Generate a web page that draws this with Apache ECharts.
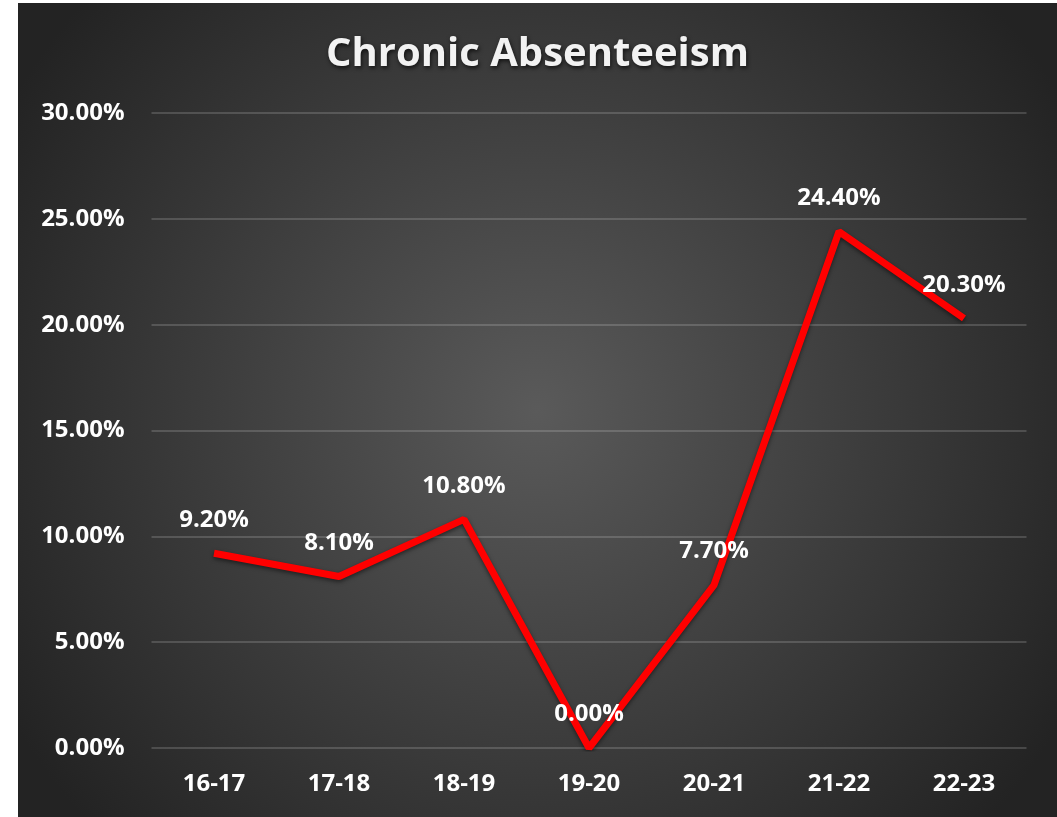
<!DOCTYPE html>
<html>
<head>
<meta charset="utf-8">
<script src="https://cdn.jsdelivr.net/npm/echarts@6/dist/echarts.min.js"></script>
<style>
  html, body { margin: 0; padding: 0; background: #ffffff; }
  #main { position: absolute; left: 18px; top: 3px; width: 1039px; height: 814px; }
</style>
</head>
<body>
<div id="main"></div>
<script>
// 数据
var years = ['16-17', '17-18', '18-19', '19-20', '20-21', '21-22', '22-23'];
var absentRate = [9.2, 8.1, 10.8, 0.0, 7.7, 24.4, 20.3];
var yTicks = [0, 5, 10, 15, 20, 25, 30];

(function () {
    var fontFam = '"Open Sans", "DejaVu Sans", sans-serif';
    var myechart = echarts.init(document.getElementById('main'));
    var option = {
        // 背景径向渐变
        backgroundColor: {
            type: 'radial',
            x: 0.5, y: 0.5, r: 0.75,
            colorStops: [
                { offset: 0, color: '#5a5a5a' },
                { offset: 1, color: '#232323' }
            ]
        },
        title: {
            text: 'Chronic Absenteeism',
            left: 'center',
            top: 27,
            textStyle: {
                color: '#f2f2f2',
                fontSize: 40,
                fontWeight: 'bold',
                fontFamily: fontFam,
                textShadowColor: 'rgba(0,0,0,0.7)',
                textShadowBlur: 4,
                textShadowOffsetX: 1,
                textShadowOffsetY: 2
            }
        },
        grid: {
            left: 133.5,
            right: 30.5,
            top: 110,
            bottom: 69
        },
        xAxis: {
            type: 'category',
            data: years,
            boundaryGap: true,
            axisTick: { show: false },
            axisLine: { show: false },
            axisLabel: {
                color: '#ffffff',
                fontSize: 24,
                fontWeight: 'bold',
                fontFamily: fontFam,
                margin: 24
            }
        },
        yAxis: {
            type: 'value',
            min: yTicks[0],
            max: yTicks[yTicks.length - 1],
            interval: 5,
            axisTick: { show: false },
            axisLine: { show: false },
            splitLine: {
                lineStyle: { color: 'rgba(255,255,255,0.16)', width: 2 }
            },
            axisLabel: {
                color: '#ffffff',
                fontSize: 24,
                fontWeight: 'bold',
                fontFamily: fontFam,
                margin: 27,
                formatter: function (v) { return v.toFixed(2) + '%'; }
            }
        },
        series: [{
            type: 'line',
            data: absentRate,
            symbol: 'circle',
            symbolSize: 1,
            showSymbol: true,
            itemStyle: { color: 'rgba(0,0,0,0)' },
            lineStyle: {
                color: '#ff0000',
                width: 7,
                shadowColor: 'rgba(0,0,0,0.5)',
                shadowBlur: 4,
                shadowOffsetY: 2
            },
            label: {
                show: true,
                position: 'top',
                distance: 21,
                color: '#ffffff',
                fontSize: 24,
                fontWeight: 'bold',
                fontFamily: fontFam,
                formatter: function (p) { return p.value.toFixed(2) + '%'; }
            },
            z: 3
        }]
    };
    myechart.setOption(option);
})();
</script>
</body>
</html>
